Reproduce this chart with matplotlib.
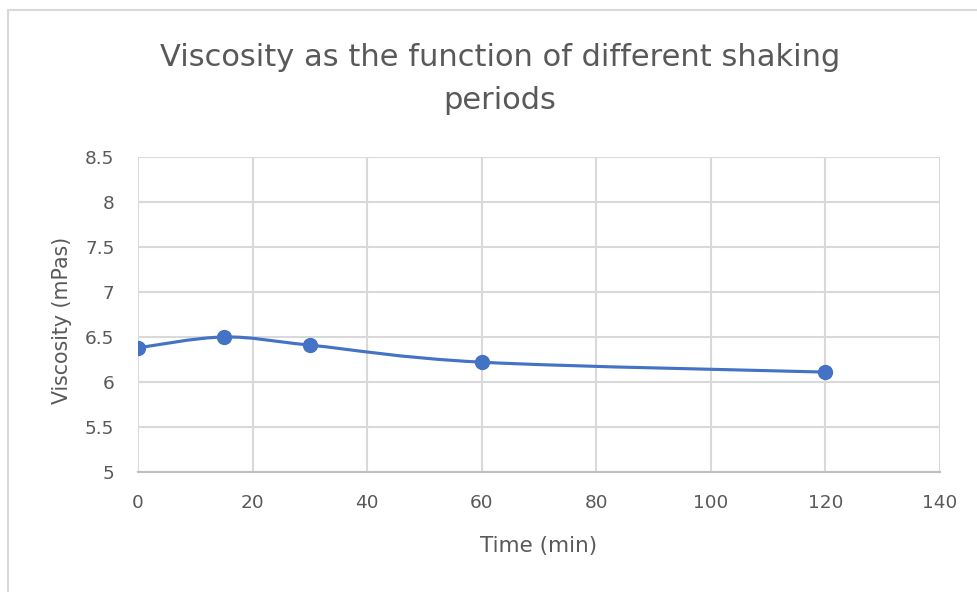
import matplotlib
matplotlib.use("Agg")
import matplotlib.pyplot as plt
import numpy as np
from matplotlib.path import Path
from matplotlib.patches import PathPatch, Rectangle

# Data
time_min = [0, 15, 30, 60, 120]
viscosity = [6.38, 6.50, 6.41, 6.22, 6.11]
x_ticks = [0, 20, 40, 60, 80, 100, 120, 140]
y_ticks = [5, 5.5, 6, 6.5, 7, 7.5, 8, 8.5]
y_tick_labels = ["5", "5.5", "6", "6.5", "7", "7.5", "8", "8.5"]

TEXT = "#595959"
GRID = "#d9d9d9"
LINE = "#4472C4"

plt.rcParams["font.family"] = ["DejaVu Sans"]

fig = plt.figure(figsize=(9.78, 5.92), dpi=100)
fig.patch.set_facecolor("white")

# chart-area frame
fig.patches.append(Rectangle((8 / 978, -0.1), 1.2, 1 - 10 / 592 + 0.1,
                             transform=fig.transFigure, fill=False,
                             edgecolor="#d9d9d9", linewidth=1.5))

ax = fig.add_axes([138 / 978, 1 - 472 / 592, (940 - 138) / 978, (472 - 157) / 592])
ax.set_xlim(0, 140)
ax.set_ylim(5, 8.5)
ax.set_xticks(x_ticks)
ax.set_yticks(y_ticks)
ax.set_yticklabels(y_tick_labels)
ax.grid(True, color=GRID, linewidth=1.5)
ax.set_axisbelow(True)
for s in ["top", "right", "left"]:
    ax.spines[s].set_visible(False)
ax.spines["bottom"].set_color("#bfbfbf")
ax.spines["bottom"].set_linewidth(1.5)
ax.tick_params(length=0, labelsize=13.3, labelcolor=TEXT)
ax.tick_params(axis="x", pad=16)
ax.tick_params(axis="y", pad=17)

# smoothed connecting line (Catmull-Rom style cubic Bezier segments)
pts = np.column_stack([time_min, viscosity])
verts = [tuple(pts[0])]
codes = [Path.MOVETO]
n = len(pts)
for i in range(n - 1):
    p0 = pts[i - 1] if i > 0 else pts[i]
    p1 = pts[i]
    p2 = pts[i + 1]
    p3 = pts[i + 2] if i + 2 < n else pts[i + 1]
    c1 = p1 + (p2 - p0) / 6
    c2 = p2 - (p3 - p1) / 6
    verts += [tuple(c1), tuple(c2), tuple(p2)]
    codes += [Path.CURVE4] * 3
ax.add_patch(PathPatch(Path(verts, codes), facecolor="none", edgecolor=LINE,
                       linewidth=2.25, capstyle="round", zorder=3))
ax.plot(time_min, viscosity, linestyle="none", marker="o", markersize=10,
        color=LINE, zorder=4)

ax.set_xlabel("Time (min)", fontsize=15.5, color=TEXT, labelpad=17)
ax.set_ylabel("Viscosity (mPas)", fontsize=14.8, color=TEXT)
ax.yaxis.set_label_coords((72 - 138) / 802, 1 - (320 - 157) / 315)

fig.text(500 / 978, 1 - 79 / 592,
         "Viscosity as the function of different shaking\nperiods",
         ha="center", va="center", fontsize=22, color=TEXT,
         linespacing=1.58)

fig.savefig("out.png", dpi=100)
